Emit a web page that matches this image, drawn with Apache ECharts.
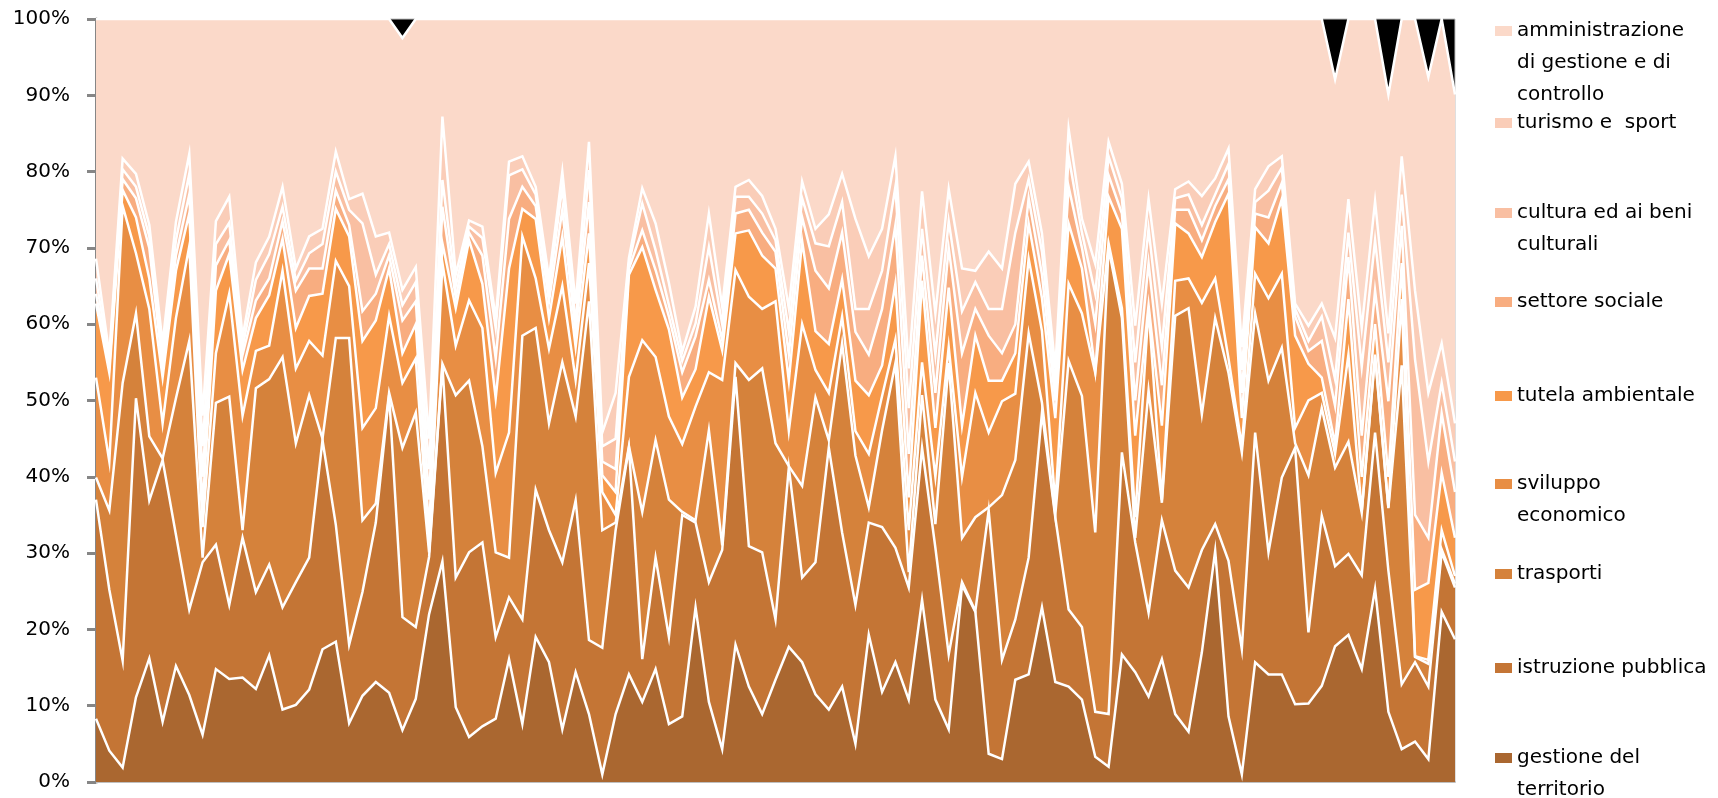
<!DOCTYPE html>
<html>
<head>
<meta charset="utf-8">
<script src="https://cdn.jsdelivr.net/npm/echarts@6/dist/echarts.min.js"></script>
<style>
  html, body { margin: 0; padding: 0; background: #ffffff; }
  #chart { width: 1718px; height: 798px; }
</style>
</head>
<body>
<div id="chart"></div>
<script>
// Categories (103 observations, unlabeled on the x axis)
const categories = ['1','2','3','4','5','6','7','8','9','10','11','12','13','14','15','16','17','18','19','20',
  '21','22','23','24','25','26','27','28','29','30','31','32','33','34','35','36','37','38','39','40',
  '41','42','43','44','45','46','47','48','49','50','51','52','53','54','55','56','57','58','59','60',
  '61','62','63','64','65','66','67','68','69','70','71','72','73','74','75','76','77','78','79','80',
  '81','82','83','84','85','86','87','88','89','90','91','92','93','94','95','96','97','98','99','100',
  '101','102','103'];

// Cumulative top (in %) of each band of the 100% stacked area
const topGestione = [8.3,4.1,1.9,11.1,16.2,7.9,15.2,11.4,6.2,14.8,
  13.5,13.7,12.2,16.6,9.5,10.1,12.1,17.4,18.4,7.7,
  11.3,13.1,11.7,6.8,10.9,22.0,28.9,9.8,5.9,7.3,
  8.3,16.1,7.6,19.0,15.7,6.9,14.4,8.9,1.0,8.9,
  14.1,10.5,14.8,7.6,8.6,22.9,10.5,4.3,18.0,12.5,
  8.9,13.4,17.7,15.7,11.5,9.5,12.5,5.0,19.3,11.8,
  15.7,10.8,23.9,10.8,6.9,25.8,22.3,3.7,3.0,13.4,
  14.1,22.9,13.1,12.5,10.8,3.3,2.0,16.7,14.4,11.2,
  16.1,8.9,6.6,17.0,30.3,8.6,1.0,15.7,14.1,14.1,
  10.2,10.3,12.6,17.8,19.3,14.8,25.3,9.2,4.3,5.3,
  3.0,22.3,18.7];

const topIstruzione = [37.0,25.2,15.9,50.3,36.9,42.2,32.4,22.6,28.8,31.1,
  23.2,32.0,24.9,28.5,22.9,26.2,29.4,44.8,33.7,18.0,
  24.9,34.0,50.7,21.6,20.3,29.5,54.6,26.8,30.1,31.4,
  19.0,24.2,21.3,38.3,33.0,28.8,36.9,18.6,17.6,33.0,
  43.8,16.1,29.4,19.0,35.0,34.0,26.2,30.4,53.1,30.9,
  30.1,21.3,41.2,26.8,28.8,43.8,32.7,23.2,34.0,33.4,
  30.7,25.5,43.8,30.7,16.7,26.2,22.4,35.6,16.0,21.3,
  29.4,48.4,34.7,22.6,20.3,9.2,8.9,43.2,31.4,22.2,
  34.3,27.7,25.5,30.4,33.8,29.0,17.4,45.8,30.1,39.9,
  43.8,19.6,34.9,28.3,29.9,27.1,45.8,27.7,12.8,15.7,
  12.5,30.1,25.5];

const topTrasporti = [39.9,35.6,52.3,61.4,45.3,42.4,50.3,57.8,29.4,49.7,
  50.5,33.0,51.6,52.8,55.7,44.4,50.7,45.0,58.2,58.2,
  34.3,36.5,51.0,43.8,48.4,30.1,54.8,50.7,52.6,44.0,
  30.1,29.4,58.5,59.5,47.0,55.0,47.9,63.0,33.0,34.0,
  44.0,35.4,44.8,37.0,35.4,34.3,46.1,31.0,54.9,52.7,
  54.2,44.4,41.4,38.8,50.4,44.8,57.5,42.8,36.0,46.1,
  54.9,27.5,50.7,33.8,54.9,32.0,34.7,36.0,37.6,42.2,
  58.8,49.7,35.0,55.2,50.6,32.7,70.0,60.8,32.0,51.3,
  36.6,61.1,62.1,48.2,60.8,53.6,43.2,61.4,52.6,56.9,
  44.4,40.2,49.0,41.2,44.6,35.3,55.8,35.9,54.6,16.4,
  15.5,30.5,26.0];

const topSviluppo = [53.0,42.0,75.5,69.3,62.0,47.0,60.8,70.2,33.4,56.2,
  64.0,48.0,56.5,57.2,67.0,54.2,57.8,55.9,68.3,65.0,
  46.4,49.0,61.1,52.3,55.5,31.0,68.0,57.2,63.1,59.5,
  40.5,45.8,71.5,66.0,56.8,65.0,52.7,68.0,38.0,35.0,
  53.1,57.9,55.7,47.9,44.3,49.2,53.7,52.7,67.1,63.6,
  62.0,63.0,46.0,60.0,54.0,51.0,61.0,46.0,43.0,50.6,
  58.0,33.0,55.0,40.0,57.0,40.0,51.0,45.8,49.9,50.9,
  68.6,59.1,36.5,65.3,61.4,53.6,70.6,62.1,34.7,62.1,
  37.0,65.7,66.0,62.8,66.0,55.5,44.0,66.6,63.4,66.6,
  46.4,50.0,51.0,43.0,56.0,35.5,56.0,36.0,63.3,16.5,
  16.0,33.0,27.0];

const topTutela = [62.7,53.6,77.6,74.0,66.0,53.0,67.0,74.5,36.0,64.4,
  69.2,54.0,60.8,63.8,71.2,59.5,63.7,64.0,75.1,71.5,
  57.8,60.5,67.3,56.2,60.0,33.0,70.6,62.1,71.0,65.3,
  50.3,67.3,75.1,73.8,60.8,71.5,57.0,71.9,40.2,38.0,
  66.5,70.1,64.5,59.3,50.4,54.1,63.6,56.6,71.9,72.3,
  69.0,67.3,52.6,70.9,59.1,57.4,65.9,52.6,50.7,54.6,
  65.3,37.3,65.7,46.4,64.8,46.7,58.5,52.6,52.6,56.2,
  73.2,63.4,47.7,73.2,67.3,53.9,76.7,72.5,45.4,62.5,
  46.7,73.2,71.9,68.8,73.4,77.1,47.7,72.7,70.6,76.4,
  58.5,54.8,53.0,44.3,63.3,40.0,60.0,40.0,68.0,25.2,
  26.1,40.5,32.0];

const topSociale = [64.0,54.5,79.0,76.5,70.0,54.5,69.0,77.0,40.0,67.7,
  71.0,56.0,63.1,66.0,73.5,64.4,67.3,67.3,77.5,73.0,
  61.7,64.0,69.0,60.5,63.0,37.0,75.4,63.5,72.0,69.0,
  55.5,73.8,78.0,75.5,63.0,75.0,59.0,76.0,42.0,41.0,
  67.3,72.3,67.1,61.0,53.7,58.4,65.8,57.9,74.5,75.0,
  72.0,69.5,56.0,74.0,67.0,64.7,72.0,59.0,56.0,62.0,
  73.0,43.0,69.0,51.0,70.0,56.2,62.0,58.5,56.2,60.0,
  76.5,66.5,50.0,78.0,70.0,60.0,79.5,74.5,50.0,68.0,
  52.0,75.0,75.0,71.0,75.5,79.0,51.0,74.5,74.0,78.5,
  61.0,56.5,57.8,49.3,68.8,45.4,64.4,49.9,72.9,35.0,
  32.0,48.3,38.0];

const topCultura = [66.0,55.2,80.3,78.0,71.5,56.0,71.0,79.7,44.0,70.5,
  73.3,57.0,65.8,69.2,75.4,65.7,69.3,70.5,80.0,75.0,
  73.2,66.5,70.5,62.5,65.5,41.0,78.9,65.0,72.8,71.3,
  59.5,79.5,80.3,77.0,64.5,78.0,60.1,80.2,44.0,45.0,
  68.0,75.8,69.7,62.5,55.2,60.1,70.1,60.0,76.7,76.7,
  74.5,71.0,59.0,76.5,70.6,70.2,76.0,62.0,62.0,67.0,
  78.0,49.0,72.5,56.0,73.5,61.7,65.5,62.0,62.0,72.0,
  79.0,69.5,52.0,82.0,72.0,64.0,82.0,76.5,55.0,72.5,
  57.0,76.5,77.0,73.0,77.0,81.0,54.0,76.0,77.5,80.5,
  62.0,57.8,61.0,52.8,72.0,54.4,71.0,55.0,77.0,55.4,
  42.0,52.3,42.0];

const topTurismo = [68.6,56.0,81.7,79.7,73.0,57.5,73.4,82.3,48.0,73.5,
  76.7,58.3,68.1,71.5,78.0,67.3,71.5,72.5,82.6,76.4,
  77.1,71.5,72.0,64.5,67.5,45.0,87.2,66.5,73.6,72.8,
  60.8,81.3,82.0,78.0,66.0,80.0,62.7,83.9,45.8,51.0,
  68.7,77.8,73.2,65.4,56.4,62.3,74.5,62.3,78.0,78.9,
  76.8,72.5,62.1,78.7,72.5,74.4,79.7,73.8,68.9,72.5,
  82.0,54.2,77.4,61.4,77.7,67.3,67.0,69.5,67.3,78.4,
  81.3,71.9,54.2,85.6,73.8,67.9,83.9,78.4,59.8,76.4,
  62.7,77.7,78.7,76.8,79.1,83.0,57.0,77.7,80.7,82.0,
  62.7,59.8,62.7,58.2,76.4,59.5,76.1,58.8,82.0,64.4,
  51.0,57.5,47.0];

const topAmministrazione = [100,100,100,100,100,100,100,100,100,100,
  100,100,100,100,100,100,100,100,100,100,
  100,100,100,97.5,100,100,100,100,100,100,
  100,100,100,100,100,100,100,100,100,100,
  100,100,100,100,100,100,100,100,100,100,
  100,100,100,100,100,100,100,100,100,100,
  100,100,100,100,100,100,100,100,100,100,
  100,100,100,100,100,100,100,100,100,100,
  100,100,100,100,100,100,100,100,100,100,
  100,100,100,92.1,100,100,100,90.1,100,100,
  92.4,100,90.1];

const yTicks = [0,10,20,30,40,50,60,70,80,90,100];

const FONT = 'DejaVu Sans';
const LH = 31.7;

// Drawn from the top band down; each later (lower) band is painted over the previous
const bands = [
  { name: 'amministrazione di gestione e di controllo', label: 'amministrazione\ndi gestione e di\ncontrollo', data: topAmministrazione, color: '#FBD9C9', y: 31 },
  { name: 'turismo e  sport', label: 'turismo e  sport', data: topTurismo, color: '#FACDB8', y: 123 },
  { name: 'cultura ed ai beni culturali', label: 'cultura ed ai beni\nculturali', data: topCultura, color: '#F9BFA2', y: 213 },
  { name: 'settore sociale', label: 'settore sociale', data: topSociale, color: '#F8AD80', y: 302 },
  { name: 'tutela ambientale', label: 'tutela ambientale', data: topTutela, color: '#F7994A', y: 396 },
  { name: 'sviluppo economico', label: 'sviluppo\neconomico', data: topSviluppo, color: '#E88E44', y: 484 },
  { name: 'trasporti', label: 'trasporti', data: topTrasporti, color: '#D5823B', y: 574 },
  { name: 'istruzione pubblica', label: 'istruzione pubblica', data: topIstruzione, color: '#C47535', y: 668 },
  { name: 'gestione del territorio', label: 'gestione del\nterritorio', data: topGestione, color: '#AA6730', y: 758 }
];

const series = bands.map(b => ({
  type: 'line',
  name: b.name,
  data: b.data,
  symbol: 'none',
  smooth: false,
  silent: true,
  animation: false,
  lineStyle: { color: '#FFFFFF', width: 2.5, join: 'miter' },
  itemStyle: { color: b.color },
  areaStyle: { color: b.color, opacity: 1 },
  emphasis: { disabled: true }
}));

const legends = bands.map(b => {
  const n = b.label.split('\n').length;
  // leading blank lines put the first text line level with the swatch
  const txt = '\n'.repeat(n - 1) + b.label;
  const total = 2 * n - 1;
  return {
    data: [{ name: b.name, itemStyle: { color: b.color, borderWidth: 0 } }],
    formatter: () => txt,
    left: 1495,
    top: b.y - total * LH / 2,
    orient: 'vertical',
    padding: 0,
    icon: 'rect',
    itemWidth: 17,
    itemHeight: 10,
    selectedMode: false,
    textStyle: { fontFamily: FONT, fontSize: 20, lineHeight: LH, color: '#000000' }
  };
});

const chart = echarts.init(document.getElementById('chart'), null, { renderer: 'canvas' });
chart.setOption({
  animation: false,
  backgroundColor: '#FFFFFF',
  grid: {
    left: 96, right: 263, top: 19, bottom: 16,
    show: true, backgroundColor: '#000000', borderColor: '#BFBFBF', borderWidth: 1
  },
  legend: legends,
  xAxis: {
    type: 'category',
    data: categories,
    boundaryGap: false,
    axisLine: { show: true, lineStyle: { color: '#BFBFBF', width: 2 } },
    axisTick: { show: false },
    axisLabel: { show: false },
    splitLine: { show: false }
  },
  yAxis: {
    type: 'value',
    min: yTicks[0],
    max: yTicks[yTicks.length - 1],
    interval: yTicks[1] - yTicks[0],
    axisLine: { show: true, lineStyle: { color: '#868686', width: 3 } },
    axisTick: { show: true, length: 9, lineStyle: { color: '#868686', width: 3 } },
    splitLine: { show: false },
    axisLabel: { formatter: '{value}%', fontFamily: FONT, fontSize: 20, color: '#000000', margin: 26 }
  },
  series: series
});
</script>
</body>
</html>
